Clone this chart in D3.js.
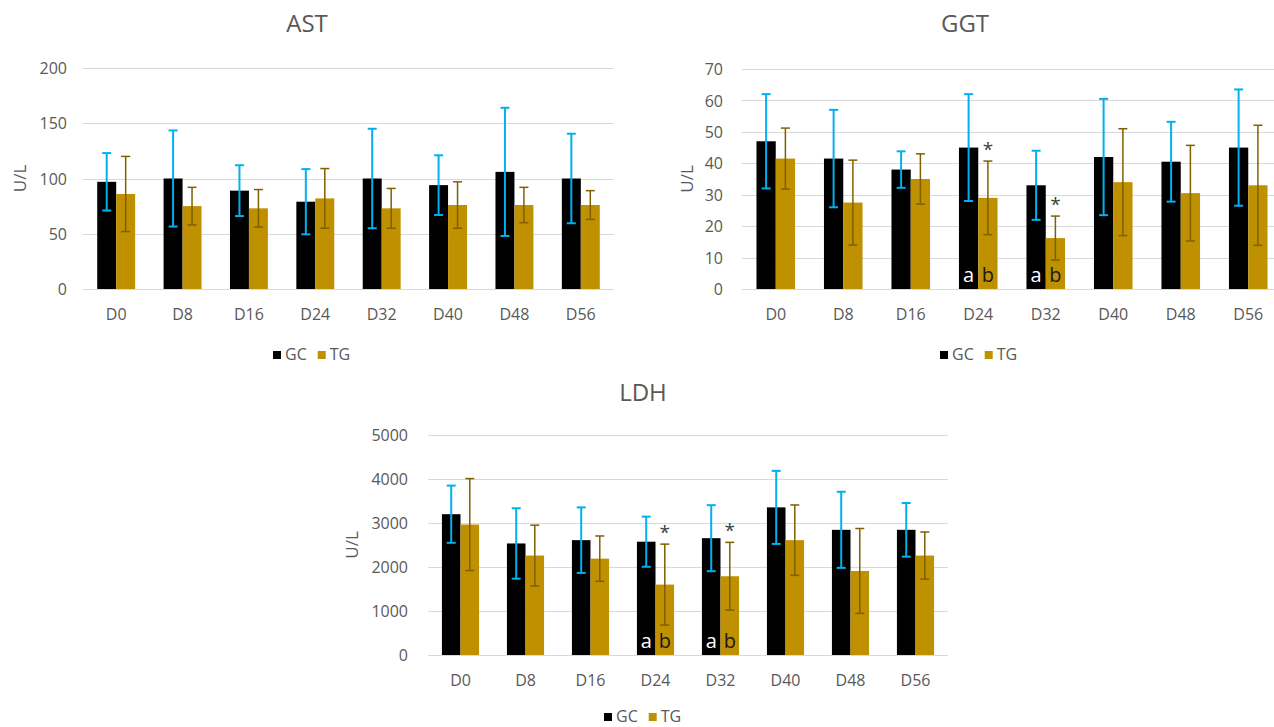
<!DOCTYPE html>
<html>
<head>
<meta charset="utf-8">
<script src="https://cdn.jsdelivr.net/npm/d3@7"></script>
<style>
  html, body { margin: 0; padding: 0; background: #fff; }
  svg { display: block; font-family: "Open Sans", "Noto Sans", sans-serif; }
</style>
</head>
<body>
<svg id="chart" width="1274" height="727"></svg>
<script>
// Sampling days
const categories = ["D0", "D8", "D16", "D24", "D32", "D40", "D48", "D56"];
const seriesNames = ["GC", "TG"];

// AST (U/L): means and standard deviations
const astGC   = [97, 100, 89, 79, 100, 94, 106, 100];
const astGCsd = [26, 43.5, 23, 29.5, 45, 27, 58, 40.5];
const astTG   = [86, 75, 73, 82, 73, 76, 76, 76];
const astTGsd = [34, 17, 17, 27, 18, 21, 16, 13];
const astTicks = [0, 50, 100, 150, 200];

// GGT (U/L)
const ggtGC   = [47, 41.5, 38, 45, 33, 42, 40.5, 45];
const ggtGCsd = [15, 15.5, 5.8, 17, 11, 18.5, 12.7, 18.5];
const ggtTG   = [41.5, 27.5, 35, 29, 16.2, 34, 30.5, 33];
const ggtTGsd = [9.7, 13.5, 8, 11.7, 7, 17, 15.2, 19.1];
const ggtTicks = [0, 10, 20, 30, 40, 50, 60, 70];

// LDH (U/L)
const ldhGC   = [3200, 2535, 2610, 2575, 2655, 3355, 2845, 2845];
const ldhGCsd = [650, 800, 745, 570, 750, 830, 865, 610];
const ldhTG   = [2965, 2260, 2190, 1600, 1790, 2610, 1910, 2260];
const ldhTGsd = [1045, 690, 515, 920, 770, 800, 965, 535];
const ldhTicks = [0, 1000, 2000, 3000, 4000, 5000];

// Days with significant differences (letters inside bars, star above TG)
const sigDaysGGT = ["D24", "D32"];
const sigDaysLDH = ["D24", "D32"];
const sigLetters = ["a", "b"];

const barColors = ["#000000", "#BF9000"];
const errColors = ["#00B0F0", "#7F6000"];
const errWidths = [2, 1.5];
const textColor = "#595959";
const gridColor = "#D9D9D9";

const svg = d3.select("#chart");

function drawPanel(cfg) {
  const g = svg.append("g");
  const x = d3.scaleBand().domain(categories).range([cfg.left, cfg.right]);
  const y = d3.scaleLinear().domain([0, cfg.ticks[cfg.ticks.length - 1]]).range([cfg.bottom, cfg.top]);
  const barW = x.bandwidth() / 3.5;

  // Horizontal gridlines
  g.append("g").selectAll("line").data(cfg.ticks).join("line")
    .attr("x1", cfg.left).attr("x2", cfg.right)
    .attr("y1", d => Math.round(y(d)) + 0.5).attr("y2", d => Math.round(y(d)) + 0.5)
    .attr("stroke", gridColor).attr("stroke-width", 1);

  // Value axis labels
  const yAxis = d3.axisLeft(y).tickValues(cfg.ticks).tickFormat(d3.format("d"))
    .tickSize(0).tickPadding(0);
  const ya = g.append("g").attr("transform", `translate(${cfg.left - cfg.tickGap},0)`).call(yAxis);
  ya.select(".domain").remove();
  ya.selectAll("text").attr("fill", textColor).attr("font-size", 16)
    .attr("font-family", "Open Sans").attr("dy", "0.35em");

  // Category axis labels
  const xAxis = d3.axisBottom(x).tickSize(0).tickPadding(0);
  const xa = g.append("g").attr("transform", `translate(0,${cfg.bottom})`).call(xAxis);
  xa.select(".domain").remove();
  xa.selectAll("text").attr("fill", textColor).attr("font-size", 16)
    .attr("font-family", "Open Sans").attr("y", 31).attr("dy", 0);

  // Bars and error bars for each series
  cfg.series.forEach((s, si) => {
    const rows = categories.map((c, i) => ({ c, v: s.mean[i], sd: s.sd[i] }));
    const xOff = si * barW + x.bandwidth() / 2 - barW;
    g.append("g").selectAll("rect").data(rows).join("rect")
      .attr("x", d => x(d.c) + xOff)
      .attr("y", d => y(d.v))
      .attr("width", barW)
      .attr("height", d => y(0) - y(d.v))
      .attr("fill", barColors[si]);

    const eb = g.append("g").attr("stroke", errColors[si]).attr("stroke-width", errWidths[si]);
    const cx = d => x(d.c) + xOff + barW / 2;
    eb.selectAll("line.v").data(rows).join("line").attr("class", "v")
      .attr("x1", cx).attr("x2", cx)
      .attr("y1", d => y(d.v + d.sd)).attr("y2", d => y(d.v - d.sd));
    eb.selectAll("line.t").data(rows).join("line").attr("class", "t")
      .attr("x1", d => cx(d) - 4.5).attr("x2", d => cx(d) + 4.5)
      .attr("y1", d => y(d.v + d.sd)).attr("y2", d => y(d.v + d.sd));
    eb.selectAll("line.b").data(rows).join("line").attr("class", "b")
      .attr("x1", d => cx(d) - 4.5).attr("x2", d => cx(d) + 4.5)
      .attr("y1", d => y(d.v - d.sd)).attr("y2", d => y(d.v - d.sd));
  });

  // Significance marks
  if (cfg.sigDays) {
    cfg.sigDays.forEach(day => {
      const i = categories.indexOf(day);
      sigLetters.forEach((L, si) => {
        g.append("text")
          .attr("x", x(day) + x.bandwidth() / 2 - barW + si * barW + barW / 2)
          .attr("y", cfg.bottom - 7)
          .attr("text-anchor", "middle")
          .attr("font-size", 20)
          .attr("fill", si === 0 ? "#ffffff" : "#1a1a1a")
          .text(L);
      });
      const tg = cfg.series[1];
      g.append("text")
        .attr("x", x(day) + x.bandwidth() / 2 + barW / 2)
        .attr("y", y(tg.mean[i] + tg.sd[i]) - 5)
        .attr("text-anchor", "middle")
        .attr("font-size", 19)
        .attr("fill", "#404040")
        .text("*");
    });
  }

  // Axis title
  g.append("text")
    .attr("transform", `translate(${cfg.yTitleX},${(cfg.top + cfg.bottom) / 2}) rotate(-90)`)
    .attr("text-anchor", "middle").attr("dy", "0.35em")
    .attr("font-size", 17).attr("fill", textColor)
    .text("U/L");

  // Chart title
  g.append("text")
    .attr("x", cfg.titleX).attr("y", cfg.titleY)
    .attr("text-anchor", "middle")
    .attr("font-size", 24).attr("fill", textColor)
    .text(cfg.title);

  // Legend
  const lg = g.append("g").attr("transform", `translate(${cfg.legendX},${cfg.legendY})`);
  let lx = 0;
  seriesNames.forEach((name, si) => {
    lg.append("rect").attr("x", lx).attr("y", -9).attr("width", 8).attr("height", 8)
      .attr("fill", barColors[si]);
    const t = lg.append("text").attr("x", lx + 12).attr("y", 0)
      .attr("font-size", 16).attr("fill", textColor).text(name);
    lx += 12 + t.node().getComputedTextLength() + 11;
  });
}

drawPanel({
  title: "AST", titleX: 307, titleY: 32,
  left: 83, right: 614, top: 68, bottom: 289, tickGap: 16, yTitleX: 20,
  ticks: astTicks,
  series: [{ mean: astGC, sd: astGCsd }, { mean: astTG, sd: astTGsd }],
  legendX: 273, legendY: 360
});

drawPanel({
  title: "GGT", titleX: 965, titleY: 32,
  left: 742, right: 1282, top: 69, bottom: 289, tickGap: 19, yTitleX: 687,
  ticks: ggtTicks,
  series: [{ mean: ggtGC, sd: ggtGCsd }, { mean: ggtTG, sd: ggtTGsd }],
  sigDays: sigDaysGGT,
  legendX: 940, legendY: 360
});

drawPanel({
  title: "LDH", titleX: 643, titleY: 401,
  left: 428, right: 948, top: 435, bottom: 655, tickGap: 20, yTitleX: 352,
  ticks: ldhTicks,
  series: [{ mean: ldhGC, sd: ldhGCsd }, { mean: ldhTG, sd: ldhTGsd }],
  sigDays: sigDaysLDH,
  legendX: 604, legendY: 722
});
</script>
</body>
</html>
